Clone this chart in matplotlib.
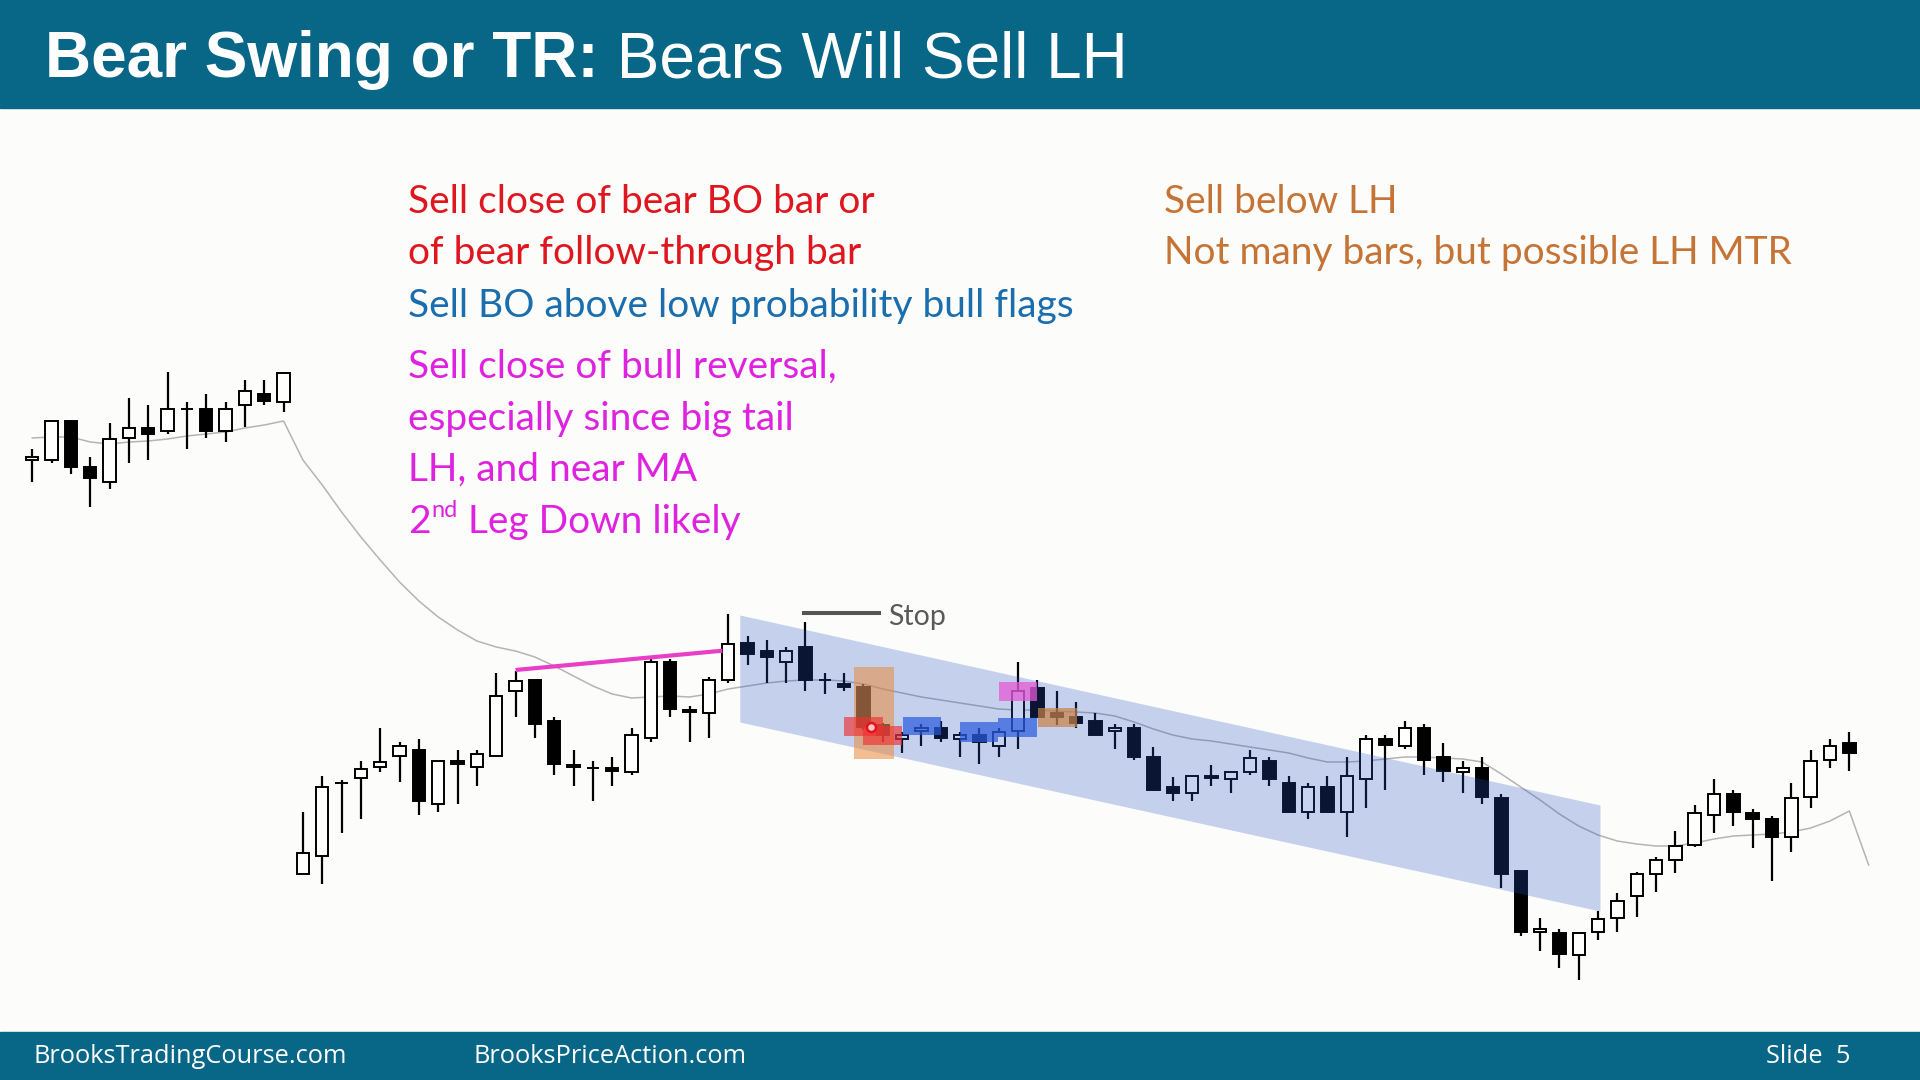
import matplotlib
matplotlib.use("Agg")
import matplotlib.pyplot as plt
from matplotlib.patches import Rectangle
import numpy as np

# ---- bar data (price units, one bar per index) ----
opens = [620, 620, 659, 613, 598, 642, 652, 649, 671, 671, 649, 675, 686, 678,
         206, 224, 297, 302, 313, 324, 330, 276, 319, 313,
         324, 389, 400, 359, 313, 312, 312, 308, 342, 418,
         370, 367, 400, 437, 429, 418, 433, 400, 396, 393,
         355, 341, 349, 352, 341, 345, 334, 349, 392, 367,
         363, 359, 349, 352, 323, 293, 287, 304, 301, 308,
         319, 297, 268, 293, 268, 301, 341, 334, 352, 323,
         308, 312, 282, 209, 148, 147, 125, 148, 162, 184,
         206, 220, 235, 265, 286, 267, 261, 243, 283, 320, 337]
highs = [631, 659, 659, 623, 657, 682, 675, 708, 678, 686, 678, 700, 700, 707,
         268, 304, 300, 319, 352, 338, 341, 319, 330, 330,
         407, 409, 400, 363, 330, 319, 323, 352, 421, 421,
         374, 403, 466, 444, 440, 433, 458, 407, 407, 396,
         357, 348, 356, 359, 348, 352, 352, 418, 400, 389,
         378, 367, 356, 356, 333, 303, 304, 315, 308, 330,
         323, 304, 297, 304, 323, 345, 345, 359, 356, 337,
         319, 323, 286, 209, 162, 151, 147, 169, 187, 208,
         223, 249, 275, 301, 290, 271, 264, 297, 330, 341, 348]
lows = [598, 617, 606, 573, 591, 617, 620, 646, 631, 642, 638, 653, 675, 668,
        206, 196, 247, 261, 308, 298, 265, 268, 276, 294,
        324, 363, 342, 305, 294, 279, 294, 305, 338, 363,
        338, 342, 397, 415, 397, 397, 389, 386, 389, 350,
        338, 327, 334, 338, 323, 316, 323, 331, 363, 355,
        352, 345, 331, 320, 290, 279, 279, 294, 287, 305,
        294, 268, 261, 268, 243, 272, 290, 331, 305, 298,
        287, 276, 192, 144, 129, 112, 100, 140, 148, 163,
        188, 207, 233, 247, 254, 232, 199, 228, 272, 312, 309]
closes = [623, 659, 613, 602, 641, 652, 646, 671, 671, 649, 671, 689, 679, 707,
          227, 293, 297, 311, 318, 334, 279, 319, 316, 326,
          384, 399, 356, 316, 315, 312, 309, 345, 418, 371,
          368, 400, 436, 426, 423, 429, 400, 400, 393, 353,
          345, 345, 352, 342, 345, 338, 348, 389, 363, 363,
          357, 345, 352, 323, 290, 287, 304, 302, 308, 322,
          301, 268, 293, 268, 304, 341, 335, 352, 320, 309,
          312, 283, 206, 148, 151, 126, 147, 161, 179, 206,
          220, 234, 267, 286, 268, 261, 243, 282, 319, 334, 327]
# moving average (one value longer than the bars)
ma = [642, 643, 643, 638, 636, 638, 639, 641, 644, 646, 648, 652, 655, 659,
      620, 595, 568, 543, 520, 498, 479, 463, 450, 439, 433, 429, 423, 414,
      404, 394, 386, 382, 383, 384, 383, 386, 391,
      394, 397, 399, 400, 400, 399, 396, 391, 387, 383, 380, 377, 374, 371,
      370, 370, 369, 368, 367,
      364, 358, 351, 345, 341, 339, 336, 333, 330, 327, 322, 318, 318, 319,
      321, 323, 323, 322, 321, 318, 306, 293,
      280, 266, 254, 245, 239, 236, 234, 234, 237, 241, 244, 245, 246, 248,
      252, 259, 269, 215]

# bear channel
chan_x = [36.6, 81.1]
chan_top = [465, 275]
chan_bot = [358, 169]

# lower-high line and stop level
lh_x = [25.0, 35.7]
lh_y = [410, 429.3]
stop_x = [39.9, 43.8]
stop_y = 467.3

# highlight boxes: x0, x1, y0, y1, colour, alpha
boxes = [
    (42.5, 44.56, 320.7, 413.3, '#eb8a3c', 0.55),
    (41.98, 44.0, 344, 363.3, '#f03030', 0.65),
    (43.0, 44.97, 335, 354, '#f03030', 0.65),
    (45.04, 47.0, 345, 363.3, '#2a5ade', 0.7),
    (47.99, 49.97, 338.3, 358.3, '#2a5ade', 0.7),
    (49.97, 51.96, 343.3, 361.7, '#2a5ade', 0.7),
    (50.02, 51.99, 379.3, 398.3, '#e65ad7', 0.75),
    (52.04, 54.03, 353.3, 371.7, '#c88246', 0.7),
]
entry_x, entry_y = 43.39, 353.3

W, H, DPI = 1920, 1080, 100
BG = '#fcfcfa'
TEAL = '#086687'
TXT_FONT = ['Lato', 'DejaVu Sans']

fig = plt.figure(figsize=(W / DPI, H / DPI), dpi=DPI, facecolor=BG)
ax = fig.add_axes([0, 0, 1, 1])
ax.set_facecolor(BG)
# first bar 32 px from the left edge, 19.33 px per bar
ax.set_xlim(-32.3 / 19.33, (W - 32.3) / 19.33)
ax.set_ylim(0, 1080)
ax.axis('off')

o, h, l, c = (np.array(v, dtype=float) for v in (opens, highs, lows, closes))
idx = np.arange(len(o))

ax.plot(np.arange(len(ma)), ma, color='#b4b4b4', lw=1.1, zorder=1)
ax.vlines(idx, l, h, color='black', lw=1.6, zorder=2)
ax.bar(idx, np.abs(c - o), bottom=np.minimum(o, c), width=0.64,
       color=np.where(c > o, 'white', 'black'), edgecolor='black',
       linewidth=1.4, zorder=3)

ax.fill_between(chan_x, chan_bot, chan_top, color='#2a55c8', alpha=0.26,
                lw=0, zorder=4)
for x0, x1, y0, y1, col, a in boxes:
    ax.add_patch(Rectangle((x0, y0), x1 - x0, y1 - y0, color=col, alpha=a,
                           lw=0, zorder=5))
ax.plot(entry_x, entry_y, 'o', ms=6.5, mfc='#f8c8c8', mec='#e8101a', mew=1.8,
        zorder=6)

ax.plot(lh_x, lh_y, color='#e83ec8', lw=3.0, zorder=5, solid_capstyle='butt')
ax.plot(stop_x, [stop_y, stop_y], color='#555555', lw=2.9, zorder=5)
ax.text(44.27, 455, 'Stop', fontsize=20.5, color='#595959', va='baseline',
        family=TXT_FONT, zorder=6)

# header and footer bars
fig.add_artist(Rectangle((0, 1 - 108 / H), 1, 108 / H, transform=fig.transFigure,
                         color=TEAL, zorder=10))
fig.add_artist(Rectangle((0, 0), 1, 48.3 / H, transform=fig.transFigure,
                         color=TEAL, zorder=10))


def px(x, y):
    return x / W, 1 - y / H


renderer = fig.canvas.get_renderer()

t1 = fig.text(*px(45, 77), 'Bear Swing or TR:', fontsize=46, color='white',
              weight='bold', family='Liberation Sans', va='baseline', zorder=11)
bb = t1.get_window_extent(renderer)
fig.text(bb.x1 / W, 1 - 77 / H, ' Bears Will Sell LH', fontsize=46,
         color='white', family='Liberation Sans', va='baseline', zorder=11)

# annotations
notes = [
    (408, 213, 'Sell close of bear BO bar or', '#e0161f'),
    (408, 264.5, 'of bear follow-through bar', '#e0161f'),
    (408, 317, 'Sell BO above low probability bull flags', '#1a6ead'),
    (408, 378, 'Sell close of bull reversal,', '#df22e0'),
    (408, 430, 'especially since big tail', '#df22e0'),
    (408, 481, 'LH, and near MA', '#df22e0'),
    (1164.5, 213, 'Sell below LH', '#c67436'),
    (1164.5, 264.5, 'Not many bars, but possible LH MTR', '#c67436'),
]
for x, y, s, col in notes:
    fig.text(*px(x, y), s, fontsize=28, color=col, family=TXT_FONT,
             va='baseline')

# "2nd Leg Down likely" with superscript
t2 = fig.text(*px(408, 533), '2', fontsize=28, color='#df22e0',
              family=TXT_FONT, va='baseline')
bb = t2.get_window_extent(renderer)
t3 = fig.text(bb.x1 / W + 1 / W, 1 - 517 / H, 'nd', fontsize=17,
              color='#df22e0', family=TXT_FONT, va='baseline')
bb = t3.get_window_extent(renderer)
fig.text(bb.x1 / W, 1 - 533 / H, ' Leg Down likely', fontsize=28,
         color='#df22e0', family=TXT_FONT, va='baseline')

# footer text
foot = dict(fontsize=18.3, color='white', family='Open Sans', va='baseline',
            zorder=11)
fig.text(*px(34, 1063), 'BrooksTradingCourse.com', **foot)
fig.text(*px(474, 1063), 'BrooksPriceAction.com', **foot)
fig.text(*px(1851, 1063), 'Slide  5', ha='right', **foot)

fig.savefig('out.png', dpi=DPI, facecolor=BG)
